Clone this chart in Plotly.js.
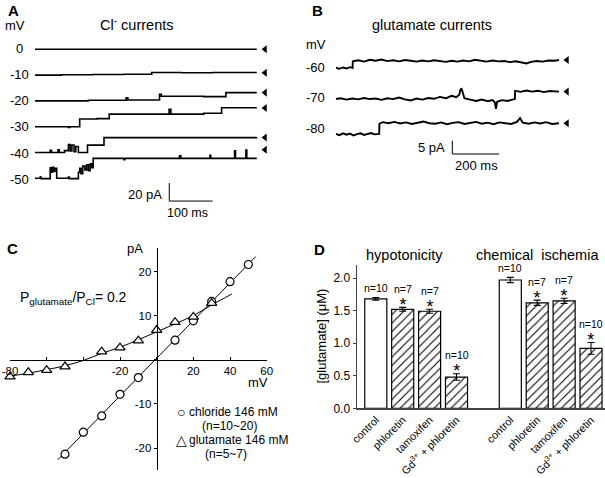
<!DOCTYPE html>
<html><head><meta charset="utf-8">
<script src="https://cdn.plot.ly/plotly-3.0.1.min.js"></script>
<style>html,body{margin:0;padding:0;background:#fff}#chart{width:605px;height:478px}</style>
</head><body><div id="chart"></div>
<script>
// ================= DATA =================
// Panel A: Cl- single-channel traces; time (ms), current (pA) relative to closed level
const voltagesA = ['0', '-10', '-20', '-30', '-40', '-50'];
const tA0 = [0, 511];
const iA0 = [0, 0];
const tA1 = [0, 61, 133, 205, 269, 338, 409, 450, 511];
const iA1 = [-2.6, -2.2, -2.0, -1.7, 0.3, 0, 0.3, 0.2, 0.2];
const tA2 = [0, 123, 210, 214, 287, 291, 389, 440, 511];
const iA2 = [-9.2, -8.5, -5.8, -8.2, -1.8, -4.1, -4.5, 0, 0];
const tA3 = [0, 77, 80, 103, 143, 171, 309, 313, 389, 430, 511];
const iA3 = [-20.7, -21.5, -20.7, -12.2, -11.7, -6.7, -1.5, -6.7, -5.7, 0.3, 0.3];
const tA4 = [0, 35, 38, 53, 56, 68, 77, 81, 85, 90, 94, 100, 121, 159, 511];
const iA4 = [-16.7, -14.2, -16.7, -13.7, -16.7, -14.6, -7.9, -15, -8.3, -15.8, -10, -16.7, -8.5, -0.2, 0];
const tA5 = [0, 12, 14, 35, 37, 40, 43, 46, 50, 77, 79, 100, 103, 106, 110, 115, 119, 123, 127, 131, 134, 205, 207, 333, 336, 403, 405, 460, 462, 486, 488, 511];
const iA5 = [-31.8, -30.4, -32.1, -20, -25, -19.6, -24.2, -20.8, -31.7, -30.4, -32.1, -25, -20.8, -26.7, -18.3, -22.5, -16.7, -23.3, -15.8, -20, -9.6, -11.2, -9.6, -6.7, -9.6, -6.2, -9.6, -1.2, -9.6, -0.4, -9.6, -9.6];

// Panel B: glutamate single-channel traces; time (ms), current (pA) relative to closed level
const voltagesB = ['-60', '-70', '-80'];
const tB60 = [0,15,30,45,60,71,72,95,120,145,170,195,220,245,270,295,320,345,370,395,420,445,470,495,520,545,570,595,620,645,670,695,720,745,770,795,816,835,860,885,910,935,955];
const iB60 = [-2.9,-3.3,-2.8,-3.2,-2.7,-3.0,-0.5,-0.1,-0.6,0.1,-0.3,0.2,-0.4,-0.1,-0.5,0,-0.3,-0.6,-0.2,-0.5,-0.1,-0.4,-0.7,-0.3,-0.6,-0.2,-0.5,0.1,-0.3,-0.6,-0.2,-0.5,-0.4,-0.8,-0.5,-0.9,-1.3,-0.7,-0.4,-0.6,-0.2,-0.3,0];
const tB70 = [0,20,45,70,95,120,145,170,195,220,245,270,295,320,345,370,395,420,445,470,495,515,528,533,538,544,550,575,600,625,650,670,680,685,690,710,735,755,766,767,790,815,840,865,890,915,940,955];
const iB70 = [-2.8,-2.5,-3.0,-2.6,-2.9,-2.4,-2.8,-2.6,-3.1,-2.5,-2.8,-2.2,-2.9,-3.3,-2.6,-3.0,-2.4,-2.7,-2.0,-2.5,-1.6,-2.1,-1.2,0.8,1.0,-0.5,-2.5,-3.0,-3.5,-3.0,-3.6,-3.2,-4.0,-6.5,-3.8,-3.2,-3.5,-3.0,-2.8,0.3,-0.1,0.4,0,0.3,-0.2,0.2,-0.1,0];
const tB80 = [0,15,30,45,60,75,90,105,120,135,150,165,180,185,186,200,225,250,275,300,325,350,375,400,425,450,475,500,525,550,575,600,625,650,675,700,725,750,775,788,800,825,850,875,900,925,955];
const iB80 = [-4.0,-4.5,-3.8,-4.3,-3.9,-4.6,-4.1,-3.8,-4.4,-4.0,-3.7,-4.2,-3.9,-4.0,-0.2,0.4,0,0.5,-0.1,0.3,-0.3,0.2,0.6,0,-0.2,0.3,-0.4,0.1,0.4,-0.3,0,0.5,-0.2,0.2,-0.4,0.3,0,-0.3,0.5,1.9,0.2,-0.2,0.3,-0.1,0.4,-0.3,0];

// Panel C: I-V relations (mV, pA)
const chlorideV = [-50, -40, -30, -20, -10, 10, 20, 30, 40, 50];
const chlorideI = [-21.4, -16.4, -12.7, -7.8, -4.0, 4.5, 8.9, 13.3, 17.8, 21.7];
const chlorideFitV = [-54, 54];
const chlorideFitI = [-22.7, 23.5];
const glutamateV = [-80, -70, -60, -50, -30, -20, -10, 0, 10, 20, 30];
const glutamateI = [-3.8, -2.8, -2.3, -1.5, 1.9, 2.8, 4.4, 6.8, 8.6, 9.8, 12.9];
const glutamateFitV = [-85, -80, -70, -60, -50, -40, -30, -20, -10, 0, 10, 20, 30, 41];
const glutamateFitI = [-4.2, -3.7, -3.0, -2.2, -1.3, -0.1, 1.5, 2.9, 4.6, 6.4, 8.2, 10.1, 12.5, 15.0];

// Panel D: glutamate release (uM)
const treatments = ['control', 'phloretin', 'tamoxifen', 'Gd<sup>3+</sup> + phloretin'];
const groups = ['hypotonicity', 'chemical\u00a0\u00a0ischemia'];
const hypoValues = [1.68, 1.52, 1.49, 0.48];
const hypoErr = [0.02, 0.03, 0.03, 0.05];
const hypoN = [10, 7, 7, 10];
const hypoSig = [false, true, true, true];
const ischValues = [1.97, 1.62, 1.65, 0.92];
const ischErr = [0.04, 0.04, 0.04, 0.09];
const ischN = [10, 7, 7, 10];
const ischSig = [false, true, true, true];

// ================= LAYOUT HELPERS =================
const W = 605, H = 478;
const FONT = 'Liberation Sans, Arial, Helvetica, sans-serif';
const fx = p => p / W, fy = p => 1 - p / H;
const ann = [], shapes = [], traces = [];
function P(text, x, y, size, extra) {
  ann.push(Object.assign({text: text, x: fx(x), y: fy(y), xref: 'paper', yref: 'paper', showarrow: false,
    xanchor: 'center', yanchor: 'middle', font: {family: FONT, size: size, color: '#000'}}, extra || {}));
}

// ----- Panel A -----
const A_ROW_TOP = -10.3, A_ROW_STEP = 28.67;
const tracesA = [[tA0, iA0], [tA1, iA1], [tA2, iA2], [tA3, iA3], [tA4, iA4], [tA5, iA5]];
const arrowAx = [], arrowAy = [];
tracesA.forEach(([t, i], k) => {
  const base = A_ROW_TOP - k * A_ROW_STEP;
  traces.push({type: 'scatter', mode: 'lines', x: t, y: i.map(v => base + v - i[0]), xaxis: 'x', yaxis: 'y',
    line: {color: '#000', width: 1.6, shape: 'hv'}, hoverinfo: 'skip'});
  arrowAx.push(530); arrowAy.push(base - i[0]);
  P(voltagesA[k], 19, 48 + 26.3 * k, 13);
});
traces.push({type: 'scatter', mode: 'markers', x: arrowAx, y: arrowAy, xaxis: 'x', yaxis: 'y', cliponaxis: false,
  marker: {symbol: 'triangle-left', size: 7, color: '#000'}, hoverinfo: 'skip'});
const SB_A = {t: 309.4, y: -178.9, ms: 100, pA: 20};
shapes.push({type: 'line', xref: 'x', yref: 'y', x0: SB_A.t, x1: SB_A.t, y0: SB_A.y, y1: SB_A.y + SB_A.pA, line: {color: '#000', width: 1}});
shapes.push({type: 'line', xref: 'x', yref: 'y', x0: SB_A.t, x1: SB_A.t + SB_A.ms, y0: SB_A.y, y1: SB_A.y, line: {color: '#000', width: 1}});
P('<b>A</b>', 13, 11, 15);
P('mV', 15, 25, 13);
P('Cl<sup>-</sup> currents', 137, 24, 14.5);
P('20 pA', 164, 194, 13, {xanchor: 'right'});
P('100 ms', 187, 213, 12.5);

// ----- Panel B -----
const B_ROW_TOP = -3.75, B_ROW_STEP = 11.85;
const tracesB = [[tB60, iB60], [tB70, iB70], [tB80, iB80]];
const arrowBx = [], arrowBy = [];
tracesB.forEach(([t, i], k) => {
  const base = B_ROW_TOP - k * B_ROW_STEP;
  traces.push({type: 'scatter', mode: 'lines', x: t, y: i.map(v => base + v), xaxis: 'x2', yaxis: 'y2',
    line: {color: '#000', width: 1.9}, hoverinfo: 'skip'});
  arrowBx.push(989); arrowBy.push(base);
  P(voltagesB[k], 315, 67 + 30.5 * k, 13);
});
traces.push({type: 'scatter', mode: 'markers', x: arrowBx, y: arrowBy, xaxis: 'x2', yaxis: 'y2', cliponaxis: false,
  marker: {symbol: 'triangle-left', size: 7, color: '#000'}, hoverinfo: 'skip'});
const SB_B = {t: 498, y: -39, ms: 200, pA: 5};
shapes.push({type: 'line', xref: 'x2', yref: 'y2', x0: SB_B.t, x1: SB_B.t, y0: SB_B.y, y1: SB_B.y + SB_B.pA, line: {color: '#000', width: 1}});
shapes.push({type: 'line', xref: 'x2', yref: 'y2', x0: SB_B.t, x1: SB_B.t + SB_B.ms, y0: SB_B.y, y1: SB_B.y, line: {color: '#000', width: 1}});
P('<b>B</b>', 317, 10, 15);
P('glutamate currents', 432, 25, 14.5);
P('mV', 315.5, 44, 13);
P('5 pA', 447, 147, 13, {xanchor: 'right'});
P('200 ms', 476.5, 165, 13);

// ----- Panel C -----
traces.push({type: 'scatter', mode: 'lines', x: chlorideFitV, y: chlorideFitI, xaxis: 'x3', yaxis: 'y3', line: {color: '#000', width: 1}, hoverinfo: 'skip'});
traces.push({type: 'scatter', mode: 'lines', x: glutamateFitV, y: glutamateFitI, xaxis: 'x3', yaxis: 'y3', line: {color: '#000', width: 1, shape: 'spline'}, hoverinfo: 'skip'});
traces.push({type: 'scatter', mode: 'markers', x: chlorideV, y: chlorideI, xaxis: 'x3', yaxis: 'y3', cliponaxis: false,
  marker: {symbol: 'circle', size: 8, color: '#fff', line: {color: '#000', width: 1.2}}, hoverinfo: 'skip'});
traces.push({type: 'scatter', mode: 'markers', x: glutamateV, y: glutamateI, xaxis: 'x3', yaxis: 'y3', cliponaxis: false,
  marker: {symbol: 'triangle-up', size: 9, color: '#fff', line: {color: '#000', width: 1.2}}, hoverinfo: 'skip'});
P('<b>C</b>', 12.5, 248, 15);
P('pA', 135, 248, 13);
P('mV', 258, 382, 13);
P('P<sub>glutamate</sub>/P<sub>Cl</sub>= 0.2', 18, 298, 14, {xanchor: 'left'});
P('\u25CB', 181, 411.5, 14);
P('chloride 146 mM', 186.5, 411.5, 12, {xanchor: 'left'});
P('(n=10~20)', 229, 426, 12);
P('\u25B3', 181.5, 440, 14);
P('glutamate 146 mM', 187, 440, 12, {xanchor: 'left'});
P('(n=5~7)', 226, 454.3, 12);

// ----- Panel D -----
const GROUP_GAP = 5;
const dSets = [[hypoValues, hypoErr, hypoN, hypoSig], [ischValues, ischErr, ischN, ischSig]];
const tickVals = [], tickText = [];
dSets.forEach(([vals, errs, ns, sig], g) => {
  const xs = vals.map((_, j) => g * GROUP_GAP + j);
  xs.forEach((x, j) => { tickVals.push(x); tickText.push(treatments[j]); });
  traces.push({type: 'bar', x: xs, y: vals, xaxis: 'x4', yaxis: 'y4', width: 0.82,
    marker: {color: '#fff', line: {color: '#000', width: 1.2},
      pattern: {shape: sig.map(s => s ? '/' : ''), fgcolor: '#000', bgcolor: '#fff', size: 6, solidity: 0.18}},
    error_y: {type: 'data', array: errs, visible: true, color: '#000', thickness: 1.1, width: 3.5}, hoverinfo: 'skip'});
  xs.forEach((x, j) => {
    const top = vals[j] + errs[j];
    if (sig[j]) {
      ann.push({text: '<span style="font-size:10.5px">n=' + ns[j] + '</span><br><span style="font-size:18px">*</span>',
        x: x, y: top, xref: 'x4', yref: 'y4', showarrow: false, xanchor: 'center', yanchor: 'middle',
        yshift: 8.5, font: {family: FONT, size: 14, color: '#000'}});
    } else {
      ann.push({text: 'n=' + ns[j], x: x, y: top, xref: 'x4', yref: 'y4', showarrow: false, xanchor: 'center', yanchor: 'middle',
        yshift: 9.5, font: {family: FONT, size: 10.5, color: '#000'}});
    }
  });
});
P('<b>D</b>', 319, 249, 15);
P(groups[0], 404, 255.5, 14.5);
P(groups[1], 537, 255.5, 14.5);
P('[glutamate] (\u03BCM)', 320.5, 336, 13, {textangle: -90});

// ================= LAYOUT =================
const layout = {
  width: W, height: H, margin: {l: 0, r: 0, t: 0, b: 0}, paper_bgcolor: '#fff', plot_bgcolor: 'rgba(0,0,0,0)',
  showlegend: false, font: {family: FONT, size: 12, color: '#000'}, bargap: 0,
  xaxis: {domain: [fx(35), fx(270)], range: [0, 541.5], visible: false, fixedrange: true, anchor: 'y'},
  yaxis: {domain: [fy(215), fy(40)], range: [-194.4, 0], visible: false, fixedrange: true, anchor: 'x'},
  xaxis2: {domain: [fx(336), fx(572)], range: [0, 1010.6], visible: false, anchor: 'y2'},
  yaxis2: {domain: [fy(160), fy(50)], range: [-41.25, 0], visible: false, anchor: 'x2'},
  xaxis3: {domain: [fx(10), fx(266.7)], range: [-80, 60], anchor: 'free', position: fy(360), showline: true, linecolor: '#000', linewidth: 1,
    zeroline: false, showgrid: false, ticks: 'inside', ticklen: 3, tickcolor: '#000',
    tickvals: [-80, -60, -40, -20, 0, 20, 40, 60], ticktext: ['-80', '', '', '-20', '', '20', '40', '60'],
    tickfont: {family: FONT, size: 11.5, color: '#000'}},
  yaxis3: {domain: [fy(470), fy(248)], range: [-25, 25.45], anchor: 'free', position: fx(156.7), side: 'left', showline: true, linecolor: '#000', linewidth: 1,
    zeroline: false, showgrid: false, ticks: 'outside', ticklen: 3, tickcolor: '#000',
    tickvals: [-20, -10, 0, 10, 20], ticktext: ['-20', '-10', '', '10', '20'],
    tickfont: {family: FONT, size: 11.5, color: '#000'}},
  xaxis4: {domain: [fx(356.7), 1], range: [-0.71, 8.52], anchor: 'y4', showline: true, linecolor: '#444', linewidth: 1.2,
    zeroline: false, showgrid: false, ticks: '', tickvals: tickVals, ticktext: tickText, tickangle: -45,
    tickfont: {family: FONT, size: 10.8, color: '#000'}},
  yaxis4: {domain: [fy(408.3), fy(265)], range: [0, 2.2], anchor: 'x4', showline: true, linecolor: '#444', linewidth: 1.2,
    zeroline: false, showgrid: false, ticks: 'outside', ticklen: 3, tickcolor: '#444',
    tickvals: [0, 0.5, 1, 1.5, 2], tickformat: '.1f', tickfont: {family: FONT, size: 12, color: '#000'}},
  annotations: ann, shapes: shapes
};
Plotly.newPlot('chart', traces, layout, {staticPlot: true, displayModeBar: false});
</script>
</body></html>
